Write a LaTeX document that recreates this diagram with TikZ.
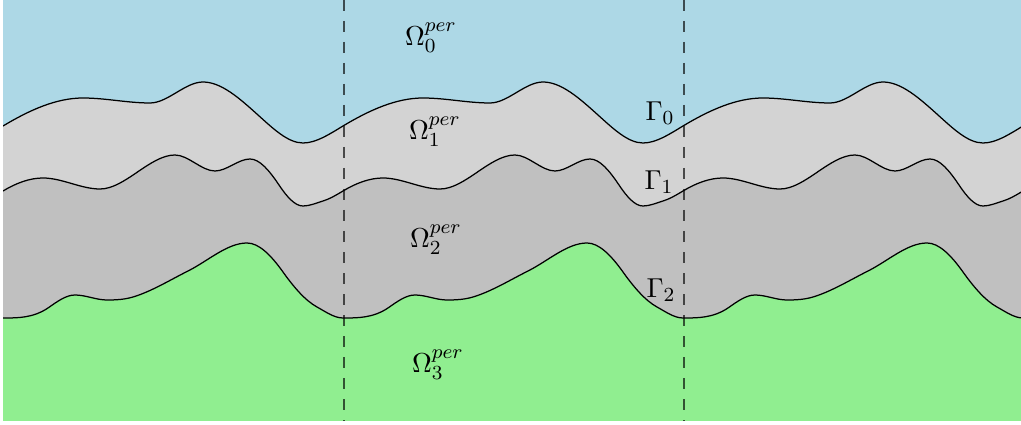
\documentclass[tikz,border=0pt]{standalone}
\definecolor{skyc}{RGB}{173,216,230}
\definecolor{layerone}{RGB}{211,211,211}
\definecolor{layertwo}{RGB}{192,192,192}
\definecolor{groundc}{RGB}{144,238,144}
\tikzset{
  iface/.style={draw=black,line width=0.5pt},
  period/.style={draw=black,draw opacity=0.65,line width=0.7pt,dash pattern=on 4.4pt off 4pt},
  lab/.style={inner sep=0pt,font=\fontsize{10.95}{13}\selectfont}
}
\begin{document}
\begin{tikzpicture}[x=0.4pt,y=-0.4pt]
\useasboundingbox (0,0) rectangle (1021,425);
\begin{scope}
\clip (3,0) rectangle (1021,421);
\fill[groundc] (3,0) rectangle (1021,421);
\foreach \k in {0,1,2}{
  \begin{scope}[shift={({3+340*\k},0)}]
    % layer 2 (above Gamma_2)
    \fill[layertwo] (0,0) -- (0,318)
      .. controls (15,318) and (30,318) .. (45,308)
      .. controls (54,301.7) and (63,295) .. (72,295)
      .. controls (82.7,295) and (93.3,300) .. (104,300)
      .. controls (112.7,300) and (121.3,299.6) .. (130,297)
      .. controls (148.3,291.5) and (166.7,280.2) .. (185,271)
      .. controls (204.7,261.2) and (224.3,243) .. (244,243)
      .. controls (256,243) and (268,255.2) .. (280,272)
      .. controls (291.3,287.9) and (302.7,300.8) .. (314,307)
      .. controls (322.7,311.8) and (331.3,318) .. (340,318)
      -- (340,0) -- cycle;
    % layer 1 (above Gamma_1)
    \fill[layerone] (0,0) -- (0,191)
      .. controls (13.3,183) and (26.7,178) .. (40,178)
      .. controls (59,178) and (78,189) .. (97,189)
      .. controls (122,189) and (147,155) .. (172,155)
      .. controls (185.3,155) and (198.7,171) .. (212,171)
      .. controls (223.7,171) and (235.3,159) .. (247,159)
      .. controls (256.7,159) and (266.3,170.5) .. (276,185)
      .. controls (284,197) and (292,206) .. (300,206)
      .. controls (306.7,206) and (313.3,203) .. (320,201)
      .. controls (326.7,199) and (333.3,195) .. (340,191)
      -- (340,0) -- cycle;
    % layer 0 (above Gamma_0)
    \fill[skyc] (0,0) -- (0,126)
      .. controls (26.7,110) and (53.3,98) .. (80,98)
      .. controls (102.3,98) and (124.7,103) .. (147,103)
      .. controls (164.7,103) and (182.3,82) .. (200,82)
      .. controls (218.3,82) and (236.7,98.5) .. (255,115)
      .. controls (270,128.5) and (285,143) .. (300,143)
      .. controls (313.3,143) and (326.7,134) .. (340,126)
      -- (340,0) -- cycle;
    % interfaces
    \draw[iface] (0,126)
      .. controls (26.7,110) and (53.3,98) .. (80,98)
      .. controls (102.3,98) and (124.7,103) .. (147,103)
      .. controls (164.7,103) and (182.3,82) .. (200,82)
      .. controls (218.3,82) and (236.7,98.5) .. (255,115)
      .. controls (270,128.5) and (285,143) .. (300,143)
      .. controls (313.3,143) and (326.7,134) .. (340,126);
    \draw[iface] (0,191)
      .. controls (13.3,183) and (26.7,178) .. (40,178)
      .. controls (59,178) and (78,189) .. (97,189)
      .. controls (122,189) and (147,155) .. (172,155)
      .. controls (185.3,155) and (198.7,171) .. (212,171)
      .. controls (223.7,171) and (235.3,159) .. (247,159)
      .. controls (256.7,159) and (266.3,170.5) .. (276,185)
      .. controls (284,197) and (292,206) .. (300,206)
      .. controls (306.7,206) and (313.3,203) .. (320,201)
      .. controls (326.7,199) and (333.3,195) .. (340,191);
    \draw[iface] (0,318)
      .. controls (15,318) and (30,318) .. (45,308)
      .. controls (54,301.7) and (63,295) .. (72,295)
      .. controls (82.7,295) and (93.3,300) .. (104,300)
      .. controls (112.7,300) and (121.3,299.6) .. (130,297)
      .. controls (148.3,291.5) and (166.7,280.2) .. (185,271)
      .. controls (204.7,261.2) and (224.3,243) .. (244,243)
      .. controls (256,243) and (268,255.2) .. (280,272)
      .. controls (291.3,287.9) and (302.7,300.8) .. (314,307)
      .. controls (322.7,311.8) and (331.3,318) .. (340,318);
  \end{scope}
}
\end{scope}
\coordinate (d1t) at (344,0);
\coordinate (d1b) at (344,421);
\coordinate (d2t) at (684,0);
\coordinate (d2b) at (684,421);
\draw[period] (d1t) -- (d1b);
\draw[period] (d2t) -- (d2b);
\node[lab] (om0) at (431,38) {$\Omega_0^{per}$};
\node[lab] (om1) at (435,132) {$\Omega_1^{per}$};
\node[lab] (om2) at (436,240) {$\Omega_2^{per}$};
\node[lab] (om3) at (438,365) {$\Omega_3^{per}$};
\node[lab] (g0) at (660,113) {$\Gamma_0$};
\node[lab] (g1) at (659,182) {$\Gamma_1$};
\node[lab] (g2) at (661,290) {$\Gamma_2$};
\end{tikzpicture}
\end{document}
